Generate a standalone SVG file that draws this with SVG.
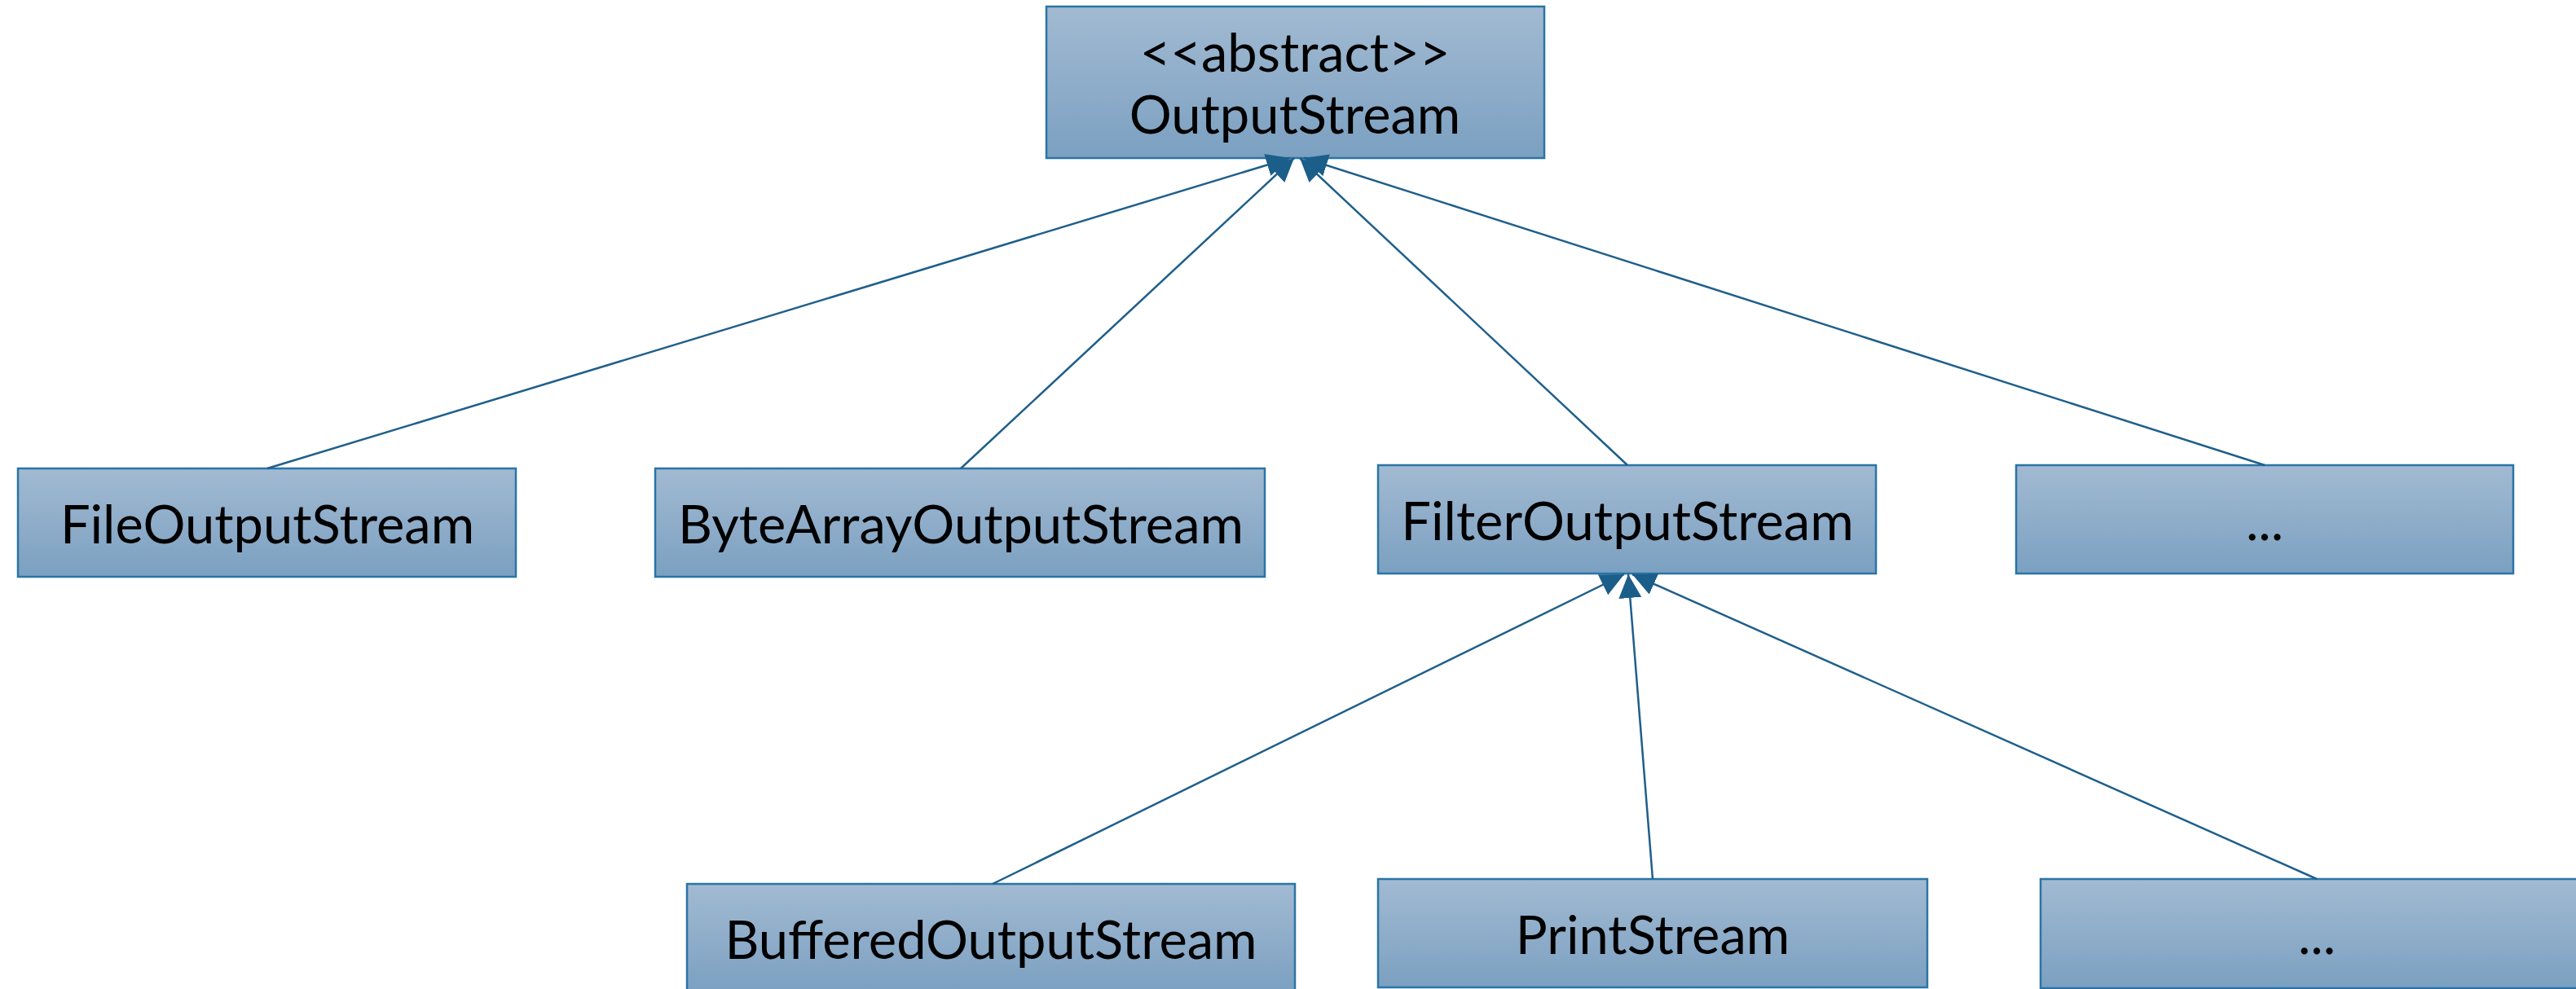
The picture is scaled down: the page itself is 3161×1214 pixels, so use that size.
<svg xmlns="http://www.w3.org/2000/svg" width="3161" height="1214" viewBox="0 0 3161 1214">
  <defs>
    <linearGradient id="boxFill" x1="0" y1="0" x2="0" y2="1">
      <stop offset="0" stop-color="#A2BAD2"/>
      <stop offset="1" stop-color="#7BA0C1"/>
    </linearGradient>
    <marker id="inherit" markerUnits="userSpaceOnUse" markerWidth="32" markerHeight="30" refX="29" refY="14" orient="auto">
      <path d="M0,0 L29,14 L0,28 z" fill="#1B5E89"/>
    </marker>
  </defs>
  <style>
    .box { fill: url(#boxFill); stroke: #2A74A6; stroke-width: 2.5; }
    .label { font-family: Lato, "Liberation Sans", sans-serif; font-size: 65px; fill: #000; text-anchor: middle; }
    .edge { stroke: #1F5F8B; stroke-width: 2.5; fill: none; marker-end: url(#inherit); }
  </style>

  <rect width="3161" height="1214" fill="#FFFFFF"/>

  <!-- class nodes -->
  <g id="node-outputstream">
    <rect class="box" x="1284" y="8" width="611" height="186"/>
    <text class="label" x="1589" y="88">&lt;&lt;abstract&gt;&gt;</text>
    <text class="label" x="1589" y="164">OutputStream</text>
  </g>
  <g id="node-fileoutputstream">
    <rect class="box" x="22" y="575" width="611" height="133"/>
    <text class="label" x="328" y="667">FileOutputStream</text>
  </g>
  <g id="node-bytearrayoutputstream">
    <rect class="box" x="804" y="575" width="748" height="133"/>
    <text class="label" x="1179" y="667">ByteArrayOutputStream</text>
  </g>
  <g id="node-filteroutputstream">
    <rect class="box" x="1691" y="571" width="611" height="133"/>
    <text class="label" x="1997" y="663">FilterOutputStream</text>
  </g>
  <g id="node-more-outputstreams">
    <rect class="box" x="2474" y="571" width="610" height="133"/>
    <text class="label" x="2779" y="663">...</text>
  </g>
  <g id="node-bufferedoutputstream">
    <rect class="box" x="843" y="1085" width="746" height="133"/>
    <text class="label" x="1216" y="1177">BufferedOutputStream</text>
  </g>
  <g id="node-printstream">
    <rect class="box" x="1691" y="1079" width="674" height="133"/>
    <text class="label" x="2028" y="1171">PrintStream</text>
  </g>
  <g id="node-more-filterstreams">
    <rect class="box" x="2504" y="1079" width="678" height="134"/>
    <text class="label" x="2843" y="1171">...</text>
  </g>

  <!-- generalization connectors -->
  <g id="connectors">
    <line class="edge" x1="328" y1="575" x2="1583" y2="194"/>
    <line class="edge" x1="1179" y1="575" x2="1588" y2="194"/>
    <line class="edge" x1="1997" y1="571" x2="1595" y2="194"/>
    <line class="edge" x1="2779" y1="571" x2="1600" y2="194"/>
    <line class="edge" x1="1218" y1="1085" x2="1993" y2="705"/>
    <line class="edge" x1="2028" y1="1079" x2="1998" y2="705"/>
    <line class="edge" x1="2843" y1="1079" x2="2003" y2="705"/>
  </g>
</svg>
